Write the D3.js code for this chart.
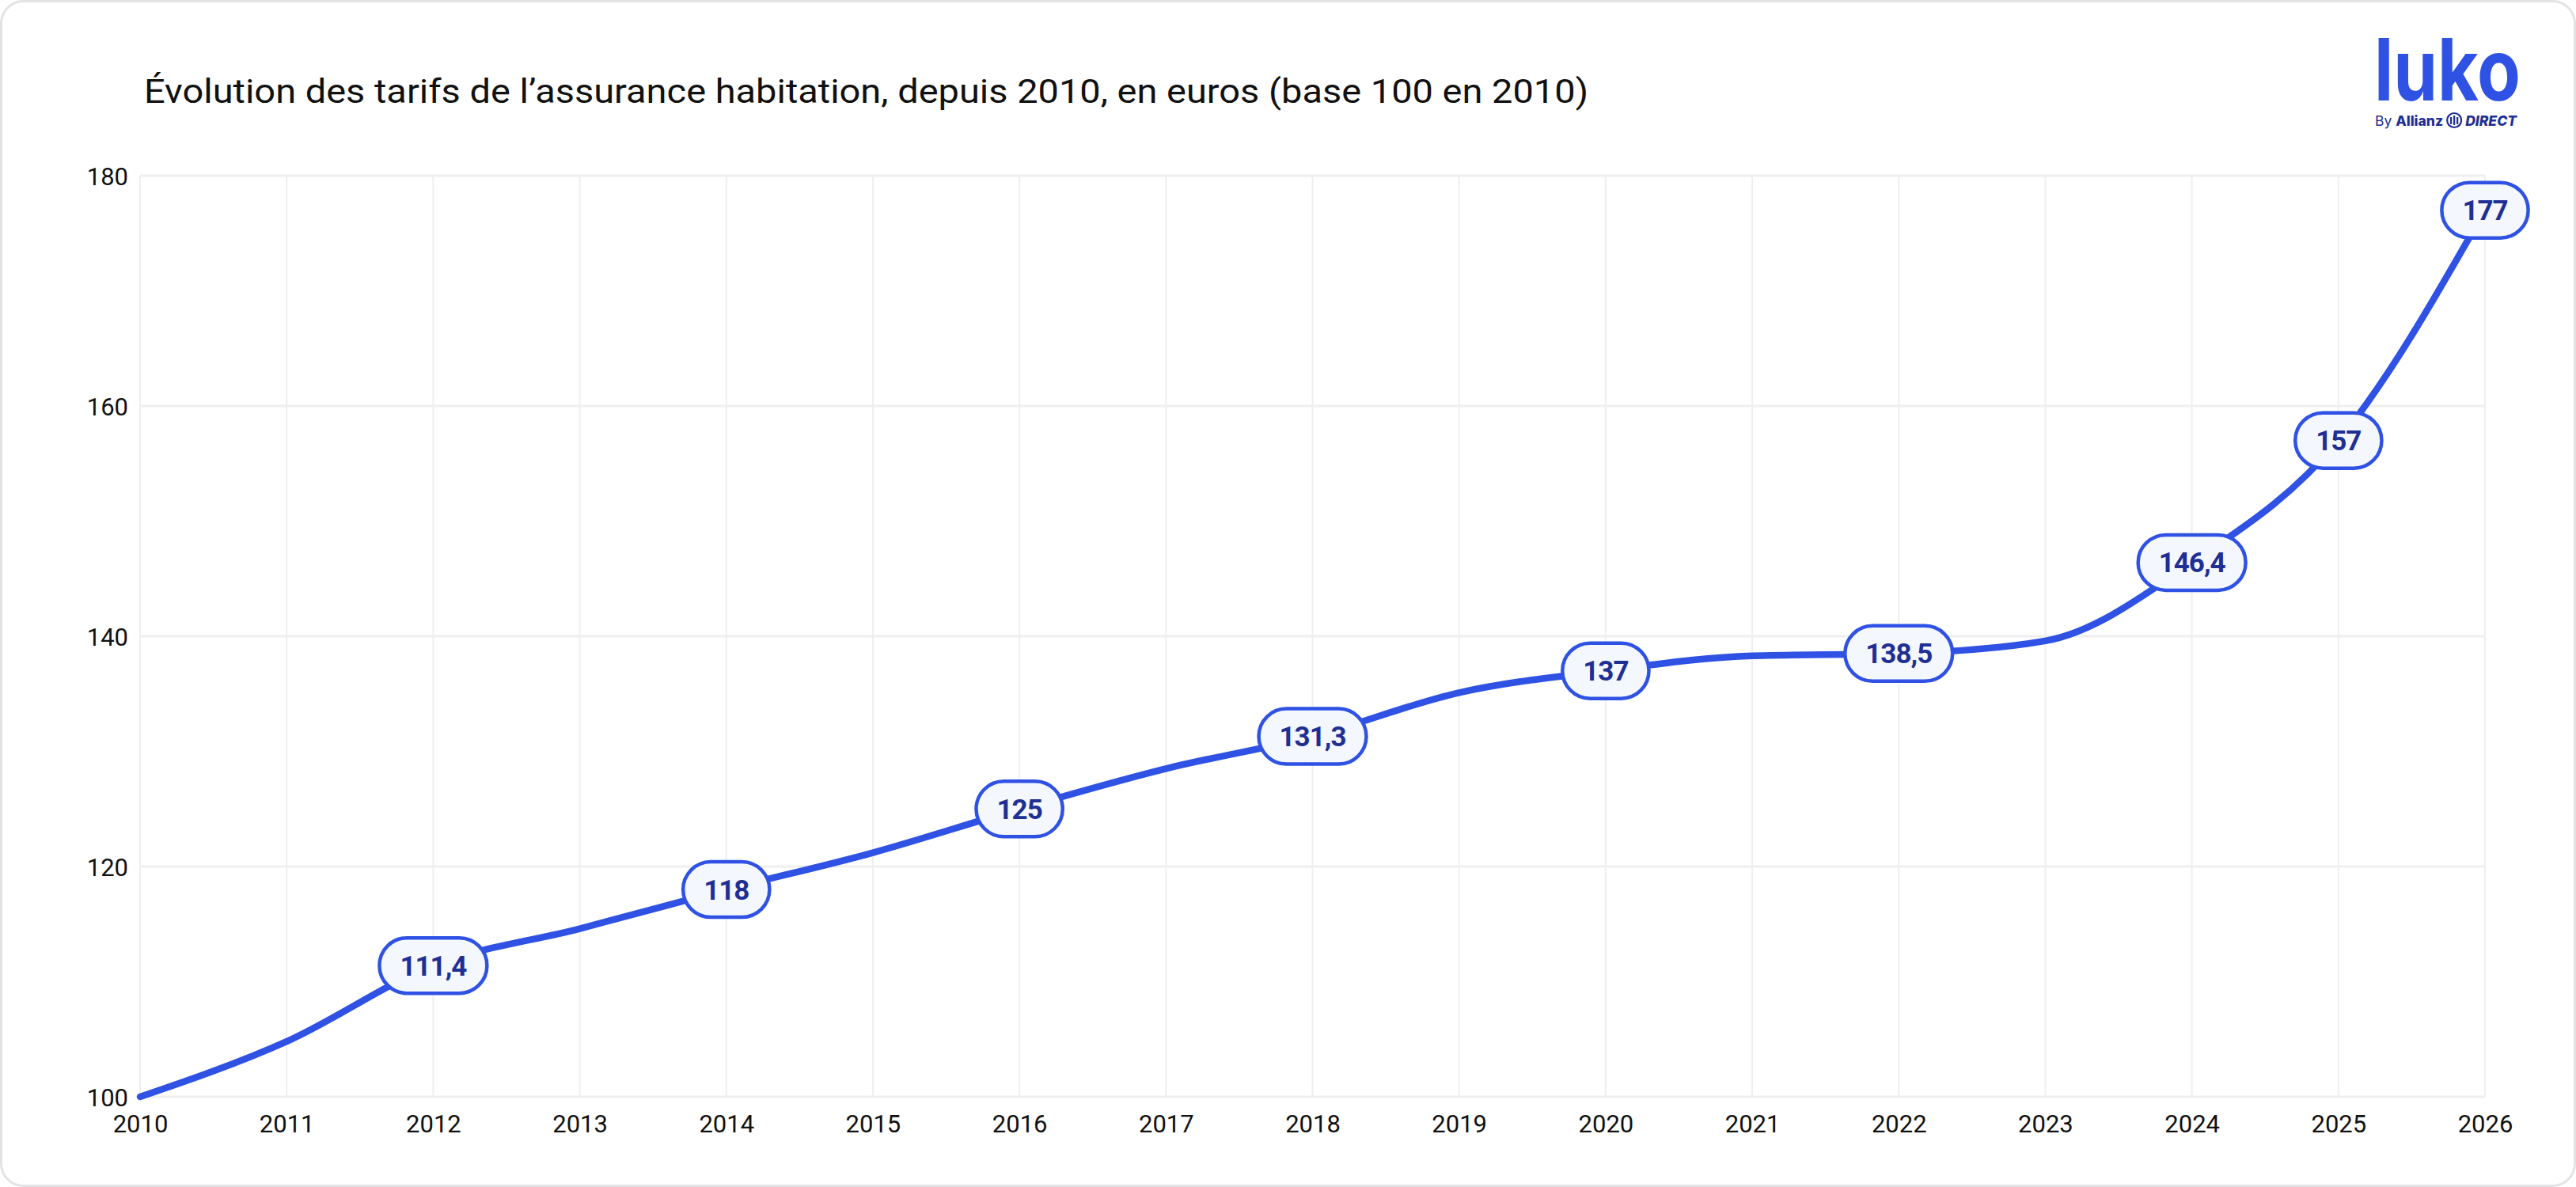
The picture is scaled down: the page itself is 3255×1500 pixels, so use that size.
<!DOCTYPE html>
<html>
<head>
<meta charset="utf-8">
<script src="https://cdn.jsdelivr.net/npm/d3@7"></script>
<style>
  html, body { margin: 0; padding: 0; background: #ffffff; }
  svg { display: block; }
</style>
</head>
<body>
<div id="chart"></div>
<script>
const years = [2010, 2011, 2012, 2013, 2014, 2015, 2016, 2017, 2018, 2019, 2020, 2021, 2022, 2023, 2024, 2025, 2026];
const values = [100, 104.8, 111.4, 114.6, 118, 121.2, 125, 128.5, 131.3, 135.1, 137, 138.3, 138.5, 139.6, 146.4, 157, 177];
const labelYears = [2012, 2014, 2016, 2018, 2020, 2022, 2024, 2025, 2026];
const yTicks = [100, 120, 140, 160, 180];
const title = "Évolution des tarifs de l’assurance habitation, depuis 2010, en euros (base 100 en 2010)";

const width = 3255;
const height = 1500;
const margin = { top: 222, right: 115, bottom: 114, left: 177 };

const blue = "#2f52e4";
const darkBlue = "#1f2f94";
const gridColor = "#efeff1";
const font = "Roboto, 'Open Sans', sans-serif";

const data = years.map((y, i) => ({ year: y, value: values[i] }));

const svg = d3.select("#chart")
  .append("svg")
  .attr("width", width)
  .attr("height", height);

// carte
svg.append("rect")
  .attr("x", 1.5)
  .attr("y", 1.5)
  .attr("width", width - 3)
  .attr("height", height - 3)
  .attr("rx", 28)
  .attr("fill", "#ffffff")
  .attr("stroke", "#e3e3e6")
  .attr("stroke-width", 3);

// titre
svg.append("text")
  .attr("x", 182)
  .attr("y", 130)
  .attr("font-family", font)
  .attr("font-size", 42)
  .attr("fill", "#111111")
  .attr("textLength", 1825)
  .attr("lengthAdjust", "spacingAndGlyphs")
  .text(title);

// logo
const logo = svg.append("g");
logo.append("text")
  .attr("x", 3000)
  .attr("y", 127)
  .attr("font-family", "Inter, Roboto, sans-serif")
  .attr("font-weight", 700)
  .attr("font-size", 108)
  .attr("fill", blue)
  .attr("textLength", 185)
  .attr("lengthAdjust", "spacingAndGlyphs")
  .text("luko");

const byline = logo.append("text")
  .attr("x", 3001)
  .attr("y", 159)
  .attr("font-family", "Inter, Roboto, sans-serif")
  .attr("font-size", 17.5)
  .attr("fill", darkBlue);

const tBy = byline.append("tspan").text("By ");
const tAllianz = byline.append("tspan").attr("font-weight", 800).text("Allianz");
byline.append("tspan")
  .attr("dx", 28)
  .attr("font-weight", 800)
  .attr("font-style", "italic")
  .text("DIRECT");

const iconX = 3001 + tBy.node().getComputedTextLength() + tAllianz.node().getComputedTextLength() + 14;

logo.append("circle")
  .attr("cx", iconX)
  .attr("cy", 152)
  .attr("r", 9)
  .attr("fill", "none")
  .attr("stroke", darkBlue)
  .attr("stroke-width", 2.2);

[-4, 0, 4].forEach((dx, i) => {
  logo.append("rect")
    .attr("x", iconX + dx - 1.1)
    .attr("y", i === 1 ? 146 : 148)
    .attr("width", 2.2)
    .attr("height", i === 1 ? 12 : 9)
    .attr("fill", darkBlue);
});

// échelles
const x = d3.scaleLinear()
  .domain([2010, 2026])
  .range([margin.left, width - margin.right]);

const y = d3.scaleLinear()
  .domain([100, 180])
  .range([height - margin.bottom, margin.top]);

// grille
const grid = svg.append("g");

grid.selectAll("line.v")
  .data(years)
  .enter()
  .append("line")
  .attr("class", "v")
  .attr("x1", d => x(d))
  .attr("x2", d => x(d))
  .attr("y1", y(180))
  .attr("y2", y(100))
  .attr("stroke", gridColor)
  .attr("stroke-width", 2);

grid.selectAll("line.h")
  .data(yTicks)
  .enter()
  .append("line")
  .attr("class", "h")
  .attr("x1", x(2010))
  .attr("x2", x(2026))
  .attr("y1", d => y(d))
  .attr("y2", d => y(d))
  .attr("stroke", gridColor)
  .attr("stroke-width", 3);

// axes
const yAxis = svg.append("g")
  .attr("transform", `translate(${margin.left - 15},0)`)
  .call(d3.axisLeft(y).tickValues(yTicks).tickSize(0).tickPadding(0));
yAxis.select(".domain").remove();
yAxis.selectAll("text")
  .attr("font-family", font)
  .attr("font-size", 31)
  .attr("fill", "#111111")
  .attr("dy", "0.36em");

const xAxis = svg.append("g")
  .attr("transform", `translate(0,${y(100) + 23})`)
  .call(d3.axisBottom(x).tickValues(years).tickFormat(d3.format("d")).tickSize(0).tickPadding(0));
xAxis.select(".domain").remove();
xAxis.selectAll("text")
  .attr("font-family", font)
  .attr("font-size", 31)
  .attr("fill", "#111111");

// courbe
const line = d3.line()
  .x(d => x(d.year))
  .y(d => y(d.value))
  .curve(d3.curveMonotoneX);

svg.append("path")
  .datum(data)
  .attr("d", line)
  .attr("fill", "none")
  .attr("stroke", blue)
  .attr("stroke-width", 8.5)
  .attr("stroke-linecap", "round")
  .attr("stroke-linejoin", "round");

// étiquettes
const fmt = v => String(v).replace(".", ",");
const labels = svg.append("g");

data.filter(d => labelYears.includes(d.year)).forEach(d => {
  const g = labels.append("g")
    .attr("transform", `translate(${x(d.year)},${y(d.value)})`);

  const rect = g.append("rect")
    .attr("fill", "#f4f8fe")
    .attr("stroke", blue)
    .attr("stroke-width", 4.5);

  const txt = g.append("text")
    .attr("text-anchor", "middle")
    .attr("dy", "0.36em")
    .attr("font-family", font)
    .attr("font-weight", 700)
    .attr("font-size", 35)
    .attr("letter-spacing", -1)
    .attr("fill", darkBlue)
    .text(fmt(d.value));

  const w = txt.node().getComputedTextLength() + 52;
  const h = 70;
  rect.attr("x", -w / 2)
    .attr("y", -h / 2)
    .attr("width", w)
    .attr("height", h)
    .attr("rx", h / 2);
});
</script>
</body>
</html>
